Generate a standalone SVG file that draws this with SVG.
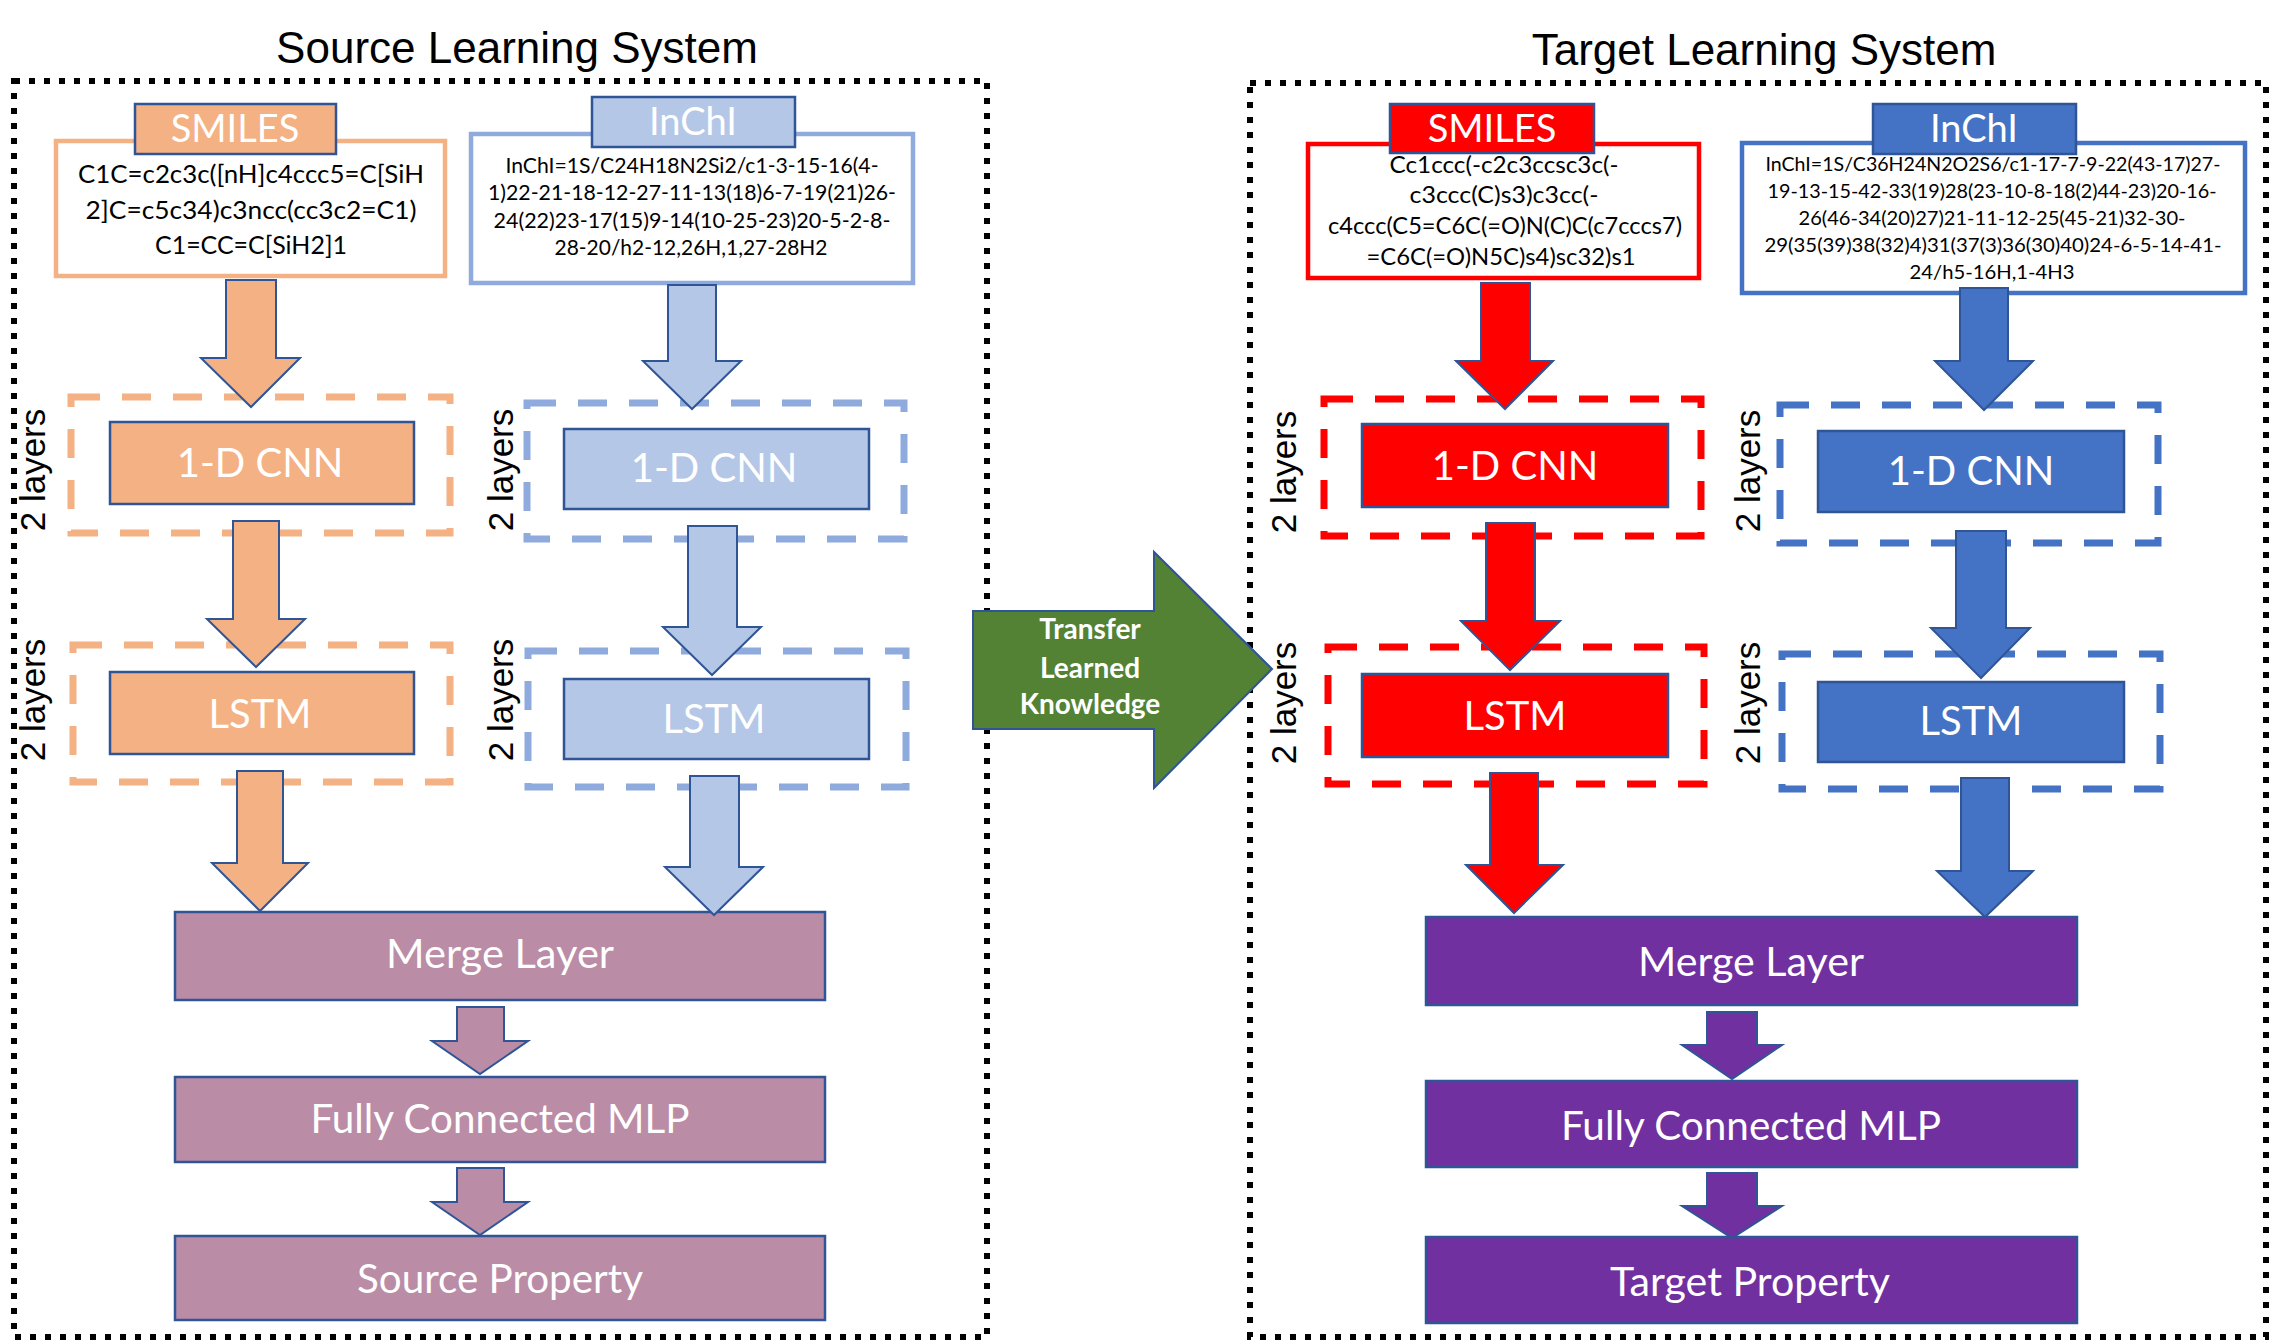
<svg xmlns="http://www.w3.org/2000/svg" width="2272" height="1341" viewBox="0 0 2272 1341">
<style>
.title{font-family:"Liberation Sans",Arial,sans-serif;font-size:44px;fill:#000;text-anchor:middle}
.outer{fill:none;stroke:#000;stroke-width:6;stroke-dasharray:6 9}
.lbl{font-family:Lato,"Open Sans",sans-serif;fill:#fff;text-anchor:middle}
.big{font-size:40px}
.mid{font-size:38px}
.low{font-size:41px}
.box{stroke:#2F5597;stroke-width:2.5}
.content{fill:#fff;stroke-width:4.5}
.chem{font-family:Lato,"Open Sans",sans-serif;fill:#000;text-anchor:middle}
.dash{fill:none;stroke-width:7;stroke-dasharray:29 22}
.layers{font-family:"Liberation Sans",Arial,sans-serif;font-size:35px;fill:#000;text-anchor:middle}
.arr{stroke:#2F5597;stroke-width:2;stroke-linejoin:miter}
.or{fill:#F4B183}.lb{fill:#B4C7E7}.mv{fill:#BA8CA6}.rd{fill:#FF0000}.bl{fill:#4472C4}.pp{fill:#7030A0}.gr{fill:#548235}
</style>
<rect width="2272" height="1341" fill="#fff"/>
<text class="title" x="517" y="63">Source Learning System</text>
<text class="title" x="1764" y="65">Target Learning System</text>
<rect class="outer" x="14" y="81" width="973" height="1256"/>
<rect class="outer" x="1250" y="83" width="1016" height="1254"/>

<g id="s-smiles">
<rect class="content" x="56" y="141" width="389" height="135" stroke="#F4B183"/>
<text class="chem" font-size="25" x="251" y="183" textLength="346" lengthAdjust="spacingAndGlyphs">C1C=c2c3c([nH]c4ccc5=C[SiH</text>
<text class="chem" font-size="25" x="251" y="219" textLength="331" lengthAdjust="spacingAndGlyphs">2]C=c5c34)c3ncc(cc3c2=C1)</text>
<text class="chem" font-size="25" x="251" y="254" textLength="192" lengthAdjust="spacingAndGlyphs">C1=CC=C[SiH2]1</text>
<rect class="box or" x="135" y="104" width="201" height="50"/>
<text class="lbl mid" x="235" y="142">SMILES</text>
</g>
<g id="s-inchi">
<rect class="content" x="471" y="134" width="442" height="149" stroke="#8FAADC"/>
<text class="chem" font-size="21" x="692" y="173" textLength="373" lengthAdjust="spacingAndGlyphs">InChI=1S/C24H18N2Si2/c1-3-15-16(4-</text>
<text class="chem" font-size="21" x="692" y="200" textLength="408" lengthAdjust="spacingAndGlyphs">1)22-21-18-12-27-11-13(18)6-7-19(21)26-</text>
<text class="chem" font-size="21" x="692" y="228" textLength="397" lengthAdjust="spacingAndGlyphs">24(22)23-17(15)9-14(10-25-23)20-5-2-8-</text>
<text class="chem" font-size="21" x="691" y="255" textLength="273" lengthAdjust="spacingAndGlyphs">28-20/h2-12,26H,1,27-28H2</text>
<rect class="box lb" x="592" y="97" width="203" height="50"/>
<text class="lbl mid" x="693" y="135">InChI</text>
</g>

<g id="s-cnn-a">
<rect class="dash" x="71" y="397" width="379" height="136" stroke="#F4B183"/>
<rect class="box or" x="110" y="422" width="304" height="82"/>
<text class="lbl big" x="260" y="477">1-D CNN</text>
<text class="layers" transform="translate(45,470) rotate(-90)">2 layers</text>
</g>
<g id="s-lstm-a">
<rect class="dash" x="73" y="645" width="377" height="137" stroke="#F4B183"/>
<rect class="box or" x="110" y="672" width="304" height="82"/>
<text class="lbl big" x="260" y="728">LSTM</text>
<text class="layers" transform="translate(45,700) rotate(-90)">2 layers</text>
</g>
<g id="s-cnn-b">
<rect class="dash" x="527" y="403" width="377" height="136" stroke="#8FAADC"/>
<rect class="box lb" x="564" y="429" width="305" height="80"/>
<text class="lbl big" x="714" y="482">1-D CNN</text>
<text class="layers" transform="translate(513,470) rotate(-90)">2 layers</text>
</g>
<g id="s-lstm-b">
<rect class="dash" x="528" y="651" width="378" height="136" stroke="#8FAADC"/>
<rect class="box lb" x="564" y="679" width="305" height="80"/>
<text class="lbl big" x="714" y="733">LSTM</text>
<text class="layers" transform="translate(513,700) rotate(-90)">2 layers</text>
</g>
<g id="s-merge">
<rect class="box mv" x="175" y="912" width="650" height="88"/>
<text class="lbl low" x="500" y="968" textLength="228" lengthAdjust="spacingAndGlyphs">Merge Layer</text>
</g>
<g id="s-mlp">
<rect class="box mv" x="175" y="1077" width="650" height="85"/>
<text class="lbl low" x="500" y="1133" textLength="379" lengthAdjust="spacingAndGlyphs">Fully Connected MLP</text>
</g>
<g id="s-prop">
<rect class="box mv" x="175" y="1236" width="650" height="84"/>
<text class="lbl low" x="500" y="1293" textLength="286" lengthAdjust="spacingAndGlyphs">Source Property</text>
</g>

<g id="t-smiles">
<rect class="content" x="1308" y="144" width="391" height="134" stroke="#FF0000"/>
<text class="chem" font-size="24" x="1504" y="173" textLength="229" lengthAdjust="spacingAndGlyphs">Cc1ccc(-c2c3ccsc3c(-</text>
<text class="chem" font-size="24" x="1504" y="203" textLength="189" lengthAdjust="spacingAndGlyphs">c3ccc(C)s3)c3cc(-</text>
<text class="chem" font-size="24" x="1505" y="234" textLength="354" lengthAdjust="spacingAndGlyphs">c4ccc(C5=C6C(=O)N(C)C(c7cccs7)</text>
<text class="chem" font-size="24" x="1501" y="265" textLength="269" lengthAdjust="spacingAndGlyphs">=C6C(=O)N5C)s4)sc32)s1</text>
<rect class="box rd" x="1390" y="104" width="204" height="49"/>
<text class="lbl mid" x="1492" y="142">SMILES</text>
</g>
<g id="t-inchi">
<rect class="content" x="1742" y="143" width="503" height="150" stroke="#4472C4"/>
<text class="chem" font-size="20" x="1993" y="171" textLength="455" lengthAdjust="spacingAndGlyphs">InChI=1S/C36H24N2O2S6/c1-17-7-9-22(43-17)27-</text>
<text class="chem" font-size="20" x="1992" y="198" textLength="449" lengthAdjust="spacingAndGlyphs">19-13-15-42-33(19)28(23-10-8-18(2)44-23)20-16-</text>
<text class="chem" font-size="20" x="1992" y="225" textLength="387" lengthAdjust="spacingAndGlyphs">26(46-34(20)27)21-11-12-25(45-21)32-30-</text>
<text class="chem" font-size="20" x="1993" y="252" textLength="457" lengthAdjust="spacingAndGlyphs">29(35(39)38(32)4)31(37(3)36(30)40)24-6-5-14-41-</text>
<text class="chem" font-size="20" x="1992" y="279" textLength="165" lengthAdjust="spacingAndGlyphs">24/h5-16H,1-4H3</text>
<rect class="box bl" x="1873" y="104" width="203" height="50"/>
<text class="lbl mid" x="1974" y="142">InChI</text>
</g>

<g id="t-cnn-a">
<rect class="dash" x="1324" y="399" width="377" height="137" stroke="#FF0000"/>
<rect class="box rd" x="1362" y="424" width="306" height="83"/>
<text class="lbl big" x="1515" y="480">1-D CNN</text>
<text class="layers" transform="translate(1296,472) rotate(-90)">2 layers</text>
</g>
<g id="t-lstm-a">
<rect class="dash" x="1328" y="647" width="376" height="137" stroke="#FF0000"/>
<rect class="box rd" x="1362" y="674" width="306" height="83"/>
<text class="lbl big" x="1515" y="730">LSTM</text>
<text class="layers" transform="translate(1296,703) rotate(-90)">2 layers</text>
</g>
<g id="t-cnn-b">
<rect class="dash" x="1780" y="405" width="378" height="138" stroke="#4472C4"/>
<rect class="box bl" x="1818" y="431" width="306" height="81"/>
<text class="lbl big" x="1971" y="485">1-D CNN</text>
<text class="layers" transform="translate(1760,471) rotate(-90)">2 layers</text>
</g>
<g id="t-lstm-b">
<rect class="dash" x="1782" y="654" width="378" height="135" stroke="#4472C4"/>
<rect class="box bl" x="1818" y="682" width="306" height="80"/>
<text class="lbl big" x="1971" y="735">LSTM</text>
<text class="layers" transform="translate(1760,703) rotate(-90)">2 layers</text>
</g>
<g id="t-merge">
<rect class="box pp" x="1426" y="917" width="651" height="88"/>
<text class="lbl low" x="1751" y="976" textLength="226" lengthAdjust="spacingAndGlyphs">Merge Layer</text>
</g>
<g id="t-mlp">
<rect class="box pp" x="1426" y="1081" width="651" height="86"/>
<text class="lbl low" x="1751" y="1140" textLength="380" lengthAdjust="spacingAndGlyphs">Fully Connected MLP</text>
</g>
<g id="t-prop">
<rect class="box pp" x="1426" y="1237" width="651" height="86"/>
<text class="lbl low" x="1750" y="1296" textLength="280" lengthAdjust="spacingAndGlyphs">Target Property</text>
</g>

<g id="transfer">
<polygon class="arr gr" points="973,611 1154,611 1154,552 1272,669 1154,788 1154,729 973,729"/>
<text font-family="Lato,'Open Sans',sans-serif" font-weight="bold" font-size="28" fill="#fff" text-anchor="middle"><tspan x="1090" y="639">Transfer</tspan><tspan x="1090" y="678">Learned</tspan><tspan x="1090" y="714">Knowledge</tspan></text>
</g>

<g id="connectors">
<polygon class="arr or" points="226,280 276,280 276,358 300,358 251,407 201,358 226,358"/>
<polygon class="arr lb" points="668,285 716,285 716,361 741,361 692,409 643,361 668,361"/>
<polygon class="arr or" points="233,521 279,521 279,619 305,619 256,667 207,619 233,619"/>
<polygon class="arr lb" points="688,526 737,526 737,627 761,627 712,675 663,627 688,627"/>
<polygon class="arr or" points="237,771 283,771 283,863 308,863 260,911 212,863 237,863"/>
<polygon class="arr lb" points="690,776 739,776 739,867 763,867 714,915 665,867 690,867"/>
<polygon class="arr mv" points="457,1007 504,1007 504,1041 528,1041 480,1074 432,1041 457,1041"/>
<polygon class="arr mv" points="457,1168 504,1168 504,1202 528,1202 480,1235 432,1202 457,1202"/>
<polygon class="arr rd" points="1481,283 1530,283 1530,361 1553,361 1505,409 1456,361 1481,361"/>
<polygon class="arr bl" points="1960,288 2008,288 2008,361 2033,361 1984,410 1935,361 1960,361"/>
<polygon class="arr rd" points="1486,523 1535,523 1535,621 1560,621 1510,670 1461,621 1486,621"/>
<polygon class="arr bl" points="1956,531 2006,531 2006,628 2030,628 1981,678 1931,628 1956,628"/>
<polygon class="arr rd" points="1490,773 1538,773 1538,865 1563,865 1514,913 1466,865 1490,865"/>
<polygon class="arr bl" points="1961,778 2009,778 2009,871 2033,871 1985,917 1937,871 1961,871"/>
<polygon class="arr pp" points="1707,1012 1757,1012 1757,1045 1782,1045 1732,1079 1682,1045 1707,1045"/>
<polygon class="arr pp" points="1707,1173 1757,1173 1757,1206 1782,1206 1732,1238 1682,1206 1707,1206"/>
</g>
</svg>
